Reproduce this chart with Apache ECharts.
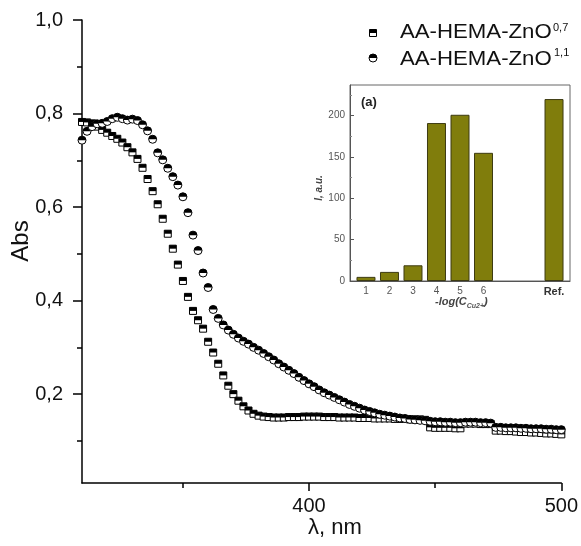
<!DOCTYPE html>
<html>
<head>
<meta charset="utf-8">
<script src="https://cdn.jsdelivr.net/npm/echarts@6/dist/echarts.min.js"></script>
<style>
html,body{margin:0;padding:0;background:#fff;}
#chart{width:581px;height:546px;}
</style>
</head>
<body>
<div id="chart"></div>
<script>
// ---- main spectra data ----
const wavelengths = [310,312,314,316,318,320,322,324,326,328,330,332,334,336,338,340,342,344,346,348,
350,352,354,356,358,360,362,364,366,368,370,372,374,376,378,380,382,384,386,388,
390,392,394,396,398,400,402,404,406,408,410,412,414,416,418,420,422,424,426,428,
430,432,434,436,438,440,442,444,446,448,450,452,454,456,458,460,462,464,466,468,
470,472,474,476,478,480,482,484,486,488,490,492,494,496,498,500];
const absZnO07 = [0.782,0.781,0.779,0.772,0.765,0.759,0.752,0.746,0.738,0.728,0.717,0.703,0.684,0.660,0.634,0.606,0.575,0.543,0.511,0.477,
0.442,0.408,0.378,0.358,0.340,0.312,0.289,0.265,0.240,0.218,0.200,0.186,0.174,0.165,0.158,0.154,0.152,0.151,
0.150,0.150,0.150,0.151,0.151,0.151,0.152,0.152,0.152,0.152,0.151,0.151,0.151,0.150,0.150,0.150,0.150,0.149,0.149,0.149,0.148,0.148,0.148,0.148,0.147,0.147,0.147,0.146,0.146,0.146,0.145,
0.129,0.128,0.128,0.128,0.128,0.127,0.127,
0.137,0.137,0.137,0.136,0.136,0.136,
0.122,0.122,0.121,0.121,0.120,0.119,0.119,0.118,0.118,0.117,0.116,0.116,0.115,0.114];
const absZnO11 = [0.743,0.762,0.772,0.778,0.779,0.783,0.789,0.792,0.789,0.786,0.788,0.785,0.776,0.763,0.745,0.716,0.701,0.683,0.665,0.647,
0.622,0.588,0.540,0.507,0.459,0.428,0.381,0.362,0.348,0.337,0.328,0.320,0.313,0.307,0.300,0.294,0.287,0.280,0.273,0.265,
0.258,0.251,0.244,0.236,0.229,0.222,0.216,0.209,0.203,0.198,0.193,0.188,0.183,0.178,0.174,0.170,0.166,0.163,0.160,0.157,
0.155,0.153,0.151,0.149,0.148,0.146,0.145,0.144,0.143,0.142,
0.141,0.141,0.140,0.140,0.139,0.139,
0.140,0.140,0.140,0.139,0.139,0.138,
0.129,0.129,0.128,0.128,0.128,0.127,0.127,0.126,0.126,0.126,0.125,0.125,0.124,0.124];
const seriesNames = ['AA-HEMA-ZnO', 'AA-HEMA-ZnO'];
const seriesSup = ['0,7', '1,1'];
const yTicks = [0.2, 0.4, 0.6, 0.8, 1.0];
const yMinorTicks = [0.1, 0.3, 0.5, 0.7, 0.9];
const xTicks = [400, 500];
const xMinorTicks = [350, 450];

// ---- inset data ----
const insetPositions = [1, 2, 3, 4, 5, 6, 9];
const insetLabels = ['1', '2', '3', '4', '5', '6', 'Ref.'];
const insetValues = [5, 11, 19, 191, 201, 155, 220];
const insetYTicks = [0, 50, 100, 150, 200];
const insetYMinor = [25, 75, 125, 175, 225];

const FONT = 'Liberation Sans';
const chart = echarts.init(document.getElementById('chart'), null, {renderer: 'canvas'});

function squareItem(params, api) {
  const p = api.coord([api.value(0), api.value(1)]);
  const s = 7;
  return {type: 'group', children: [
    {type: 'rect', shape: {x: p[0] - s / 2, y: p[1] - s / 2, width: s, height: s}, style: {fill: '#fff', stroke: '#000', lineWidth: 1}},
    {type: 'rect', shape: {x: p[0] - s / 2, y: p[1] - s / 2, width: s, height: s / 2}, style: {fill: '#000'}}
  ]};
}
function circleItem(params, api) {
  const p = api.coord([api.value(0), api.value(1)]);
  const r = 4;
  return {type: 'group', children: [
    {type: 'circle', shape: {cx: p[0], cy: p[1], r: r}, style: {fill: '#fff', stroke: '#000', lineWidth: 1}},
    {type: 'sector', shape: {cx: p[0], cy: p[1], r0: 0, r: r, startAngle: Math.PI, endAngle: 2 * Math.PI, clockwise: true}, style: {fill: '#000'}}
  ]};
}

const fmtComma = v => v.toFixed(1).replace('.', ',');

const option = {
  backgroundColor: '#fff',
  animation: false,
  grid: [
    {left: 82, right: 19, top: 20, bottom: 63, containLabel: false},
    {left: 350, right: 11, top: 85, bottom: 265, show: true, borderColor: '#666', borderWidth: 1, backgroundColor: 'transparent'}
  ],
  xAxis: [
    {gridIndex: 0, type: 'value', min: 310, max: 500, position: 'bottom',
     axisLine: {show: true, lineStyle: {color: '#000', width: 1.5}},
     axisTick: {show: true, customValues: xTicks, length: 8, inside: false, lineStyle: {color: '#000', width: 1.5}},
     axisLabel: {customValues: xTicks, margin: 13, fontFamily: FONT, fontSize: 20, color: '#111'},
     splitLine: {show: false}},
    {gridIndex: 0, type: 'value', min: 310, max: 500, position: 'bottom',
     axisLine: {show: false},
     axisTick: {show: true, customValues: xMinorTicks, length: 5, lineStyle: {color: '#000', width: 1.5}},
     axisLabel: {show: false}, splitLine: {show: false}},
    {gridIndex: 1, type: 'value', min: 0.32, max: 9.68, position: 'bottom',
     axisLine: {show: true, lineStyle: {color: '#555', width: 1}},
     axisTick: {show: true, customValues: insetPositions, inside: true, length: 3, lineStyle: {color: '#555'}},
     axisLabel: {customValues: insetPositions, margin: 5, fontFamily: FONT, fontSize: 10, color: '#555',
       formatter: v => { const i = insetPositions.indexOf(v); const t = insetLabels[i]; return t === 'Ref.' ? '{b|' + t + '}' : t; },
       rich: {b: {fontFamily: FONT, fontSize: 11, fontWeight: 'bold', color: '#333'}}},
     splitLine: {show: false}}
  ],
  yAxis: [
    {gridIndex: 0, type: 'value', min: 0.01, max: 1.0, position: 'left',
     axisLine: {show: true, lineStyle: {color: '#000', width: 1.5}},
     axisTick: {show: true, customValues: yTicks, length: 9, lineStyle: {color: '#000', width: 1.5}},
     axisLabel: {customValues: yTicks, margin: 19, fontFamily: FONT, fontSize: 20, color: '#111', formatter: fmtComma},
     splitLine: {show: false}},
    {gridIndex: 0, type: 'value', min: 0.01, max: 1.0, position: 'left',
     axisLine: {show: false},
     axisTick: {show: true, customValues: yMinorTicks, length: 5, lineStyle: {color: '#000', width: 1.5}},
     axisLabel: {show: false}, splitLine: {show: false}},
    {gridIndex: 1, type: 'value', min: 0, max: 237, position: 'left',
     axisLine: {show: true, lineStyle: {color: '#555', width: 1}},
     axisTick: {show: true, customValues: insetYTicks, inside: true, length: 4, lineStyle: {color: '#555'}},
     axisLabel: {customValues: insetYTicks, margin: 5, fontFamily: FONT, fontSize: 10, color: '#555'},
     splitLine: {show: false}},
    {gridIndex: 1, type: 'value', min: 0, max: 237, position: 'left',
     axisLine: {show: false},
     axisTick: {show: true, customValues: insetYMinor, inside: true, length: 2, lineStyle: {color: '#888'}},
     axisLabel: {show: false}, splitLine: {show: false}}
  ],
  series: [
    {name: 'ZnO07', type: 'custom', xAxisIndex: 0, yAxisIndex: 0, renderItem: squareItem, clip: false,
     encode: {x: 0, y: 1}, data: wavelengths.map((w, i) => [w, absZnO07[i]])},
    {name: 'ZnO11', type: 'custom', xAxisIndex: 0, yAxisIndex: 0, renderItem: circleItem, clip: false,
     encode: {x: 0, y: 1}, data: wavelengths.map((w, i) => [w, absZnO11[i]])},
    {name: 'inset', type: 'bar', xAxisIndex: 2, yAxisIndex: 2, barWidth: 19,
     itemStyle: {color: '#807d0c', borderColor: '#3d3b12', borderWidth: 1},
     data: insetPositions.map((p, i) => [p, insetValues[i]])}
  ],
  graphic: [
    // axis titles
    {type: 'text', x: 21, y: 241, rotation: Math.PI / 2,
     style: {text: 'Abs', fontFamily: FONT, fontSize: 24, fill: '#111', align: 'center', verticalAlign: 'middle'}},
    {type: 'text', x: 335, y: 528,
     style: {text: 'λ, nm', fontFamily: FONT, fontSize: 22, fill: '#111', align: 'center', verticalAlign: 'middle'}},
    // legend
    {type: 'rect', shape: {x: 369.5, y: 29.5, width: 7, height: 7}, style: {fill: '#fff', stroke: '#000', lineWidth: 1}},
    {type: 'rect', shape: {x: 369.5, y: 29.5, width: 7, height: 3.5}, style: {fill: '#000'}},
    {type: 'circle', shape: {cx: 373, cy: 58, r: 4}, style: {fill: '#fff', stroke: '#000', lineWidth: 1}},
    {type: 'sector', shape: {cx: 373, cy: 58, r0: 0, r: 4, startAngle: Math.PI, endAngle: 2 * Math.PI, clockwise: true}, style: {fill: '#000'}},
    {type: 'text', x: 400, y: 32, scaleX: 1.11, style: {text: seriesNames[0], fontFamily: FONT, fontSize: 20, fill: '#111', align: 'left', verticalAlign: 'middle'}},
    {type: 'text', x: 553, y: 28, style: {text: seriesSup[0], fontFamily: FONT, fontSize: 11, fill: '#111', align: 'left', verticalAlign: 'middle'}},
    {type: 'text', x: 400, y: 59, scaleX: 1.11, style: {text: seriesNames[1], fontFamily: FONT, fontSize: 20, fill: '#111', align: 'left', verticalAlign: 'middle'}},
    {type: 'text', x: 554, y: 53, style: {text: seriesSup[1], fontFamily: FONT, fontSize: 11, fill: '#111', align: 'left', verticalAlign: 'middle'}},
    // inset texts
    {type: 'text', x: 361, y: 102, style: {text: '(a)', fontFamily: FONT, fontSize: 13, fontWeight: 'bold', fill: '#222', align: 'left', verticalAlign: 'middle'}},
    {type: 'text', x: 319, y: 188, rotation: Math.PI / 2,
     style: {text: 'I, a.u.', fontFamily: FONT, fontSize: 10, fontStyle: 'italic', fontWeight: 'bold', fill: '#444', align: 'center', verticalAlign: 'middle'}},
    {type: 'text', x: 435, y: 302,
     style: {text: '{m|-log(C}{s|Cu2+}{m|)}', fontFamily: FONT, align: 'left', verticalAlign: 'middle',
       rich: {m: {fontFamily: FONT, fontSize: 11, fontStyle: 'italic', fontWeight: 'bold', fill: '#444', verticalAlign: 'middle'},
              s: {fontFamily: FONT, fontSize: 7, fontStyle: 'italic', fontWeight: 'bold', fill: '#555', padding: [8, 0, 0, 0]}}}}
  ]
};
chart.setOption(option);
</script>
</body>
</html>
